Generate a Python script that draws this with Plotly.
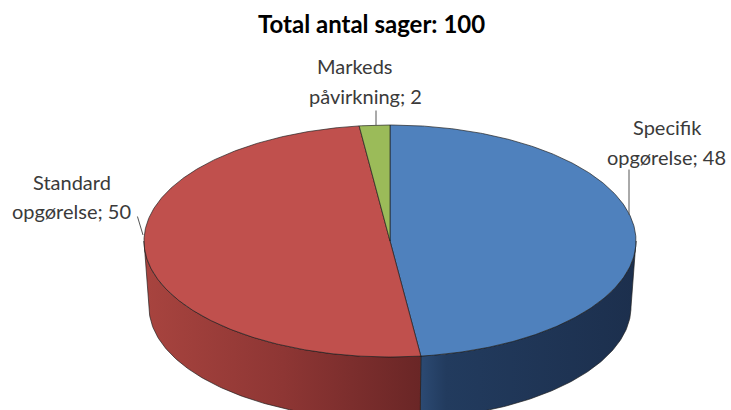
import numpy as np
import plotly.graph_objects as go

# ---- data ----
categories = ["Specifik opgørelse", "Standard opgørelse", "Markeds påvirkning"]
values = [48, 50, 2]
title_prefix = "Total antal sager"

# ---- style ----
top_colors = ["#4f81bd", "#c0504d", "#9bbb59"]
side_scales = [
    [[0, "#2c4a73"], [0.12, "#223b5e"], [1, "#1c2f4d"]],
    [[0, "#a8443f"], [0.5, "#8e3634"], [1, "#6a2626"]],
    [[0, "#7a9646"], [1, "#5e7535"]],
]
cx, cy, rx, ry = 390, 241, 246, 116
depth, rxb, ryb = 66, 241, 113
edge = dict(color="rgba(30,30,30,0.85)", width=0.8)
font_family = "Lato"

# label layout (centres of each line, leader line start/end)
label_pos = [
    [(667, 127), (666, 157)],
    [(72, 182), (71, 211)],
    [(355, 66), (365, 96)],
]
leader = [((629, 168), (629, 215)), ((137, 215), (143, 235)), ((376, 109), (376, 125))]


def top_pt(t):
    r = np.radians(t)
    return cx + rx * np.sin(r), cy - ry * np.cos(r)


def bot_pt(t):
    r = np.radians(t)
    return cx + rxb * np.sin(r), cy + depth - ryb * np.cos(r)


total = sum(values)
bounds = np.concatenate([[0], np.cumsum(values)]) / total * 360.0

fig = go.Figure()

# side faces (front half only: 90..270 deg clockwise from top)
for i, v in enumerate(values):
    a, b = bounds[i], bounds[i + 1]
    lo, hi = max(a, 90), min(b, 270)
    if hi <= lo:
        continue
    ts = np.linspace(lo, hi, 120)
    xt, yt = top_pt(ts)
    xb, yb = bot_pt(ts[::-1])
    xs = np.concatenate([xt, xb, xt[:1]])
    ys = np.concatenate([yt, yb, yt[:1]])
    fig.add_trace(go.Scatter(
        x=xs, y=ys, mode="lines", fill="toself", line=edge,
        fillgradient=dict(type="horizontal", colorscale=side_scales[i],
                          start=float(xs.min()), stop=float(xs.max())),
        hoverinfo="skip", showlegend=False))

# top faces
for i, v in enumerate(values):
    a, b = bounds[i], bounds[i + 1]
    ts = np.linspace(a, b, max(8, int((b - a) * 2)))
    xt, yt = top_pt(ts)
    xs = np.concatenate([[cx], xt, [cx]])
    ys = np.concatenate([[cy], yt, [cy]])
    fig.add_trace(go.Scatter(
        x=xs, y=ys, mode="lines", fill="toself", fillcolor=top_colors[i],
        line=edge, hoverinfo="skip", showlegend=False, name=categories[i]))

annotations = []
for i, (cat, v) in enumerate(zip(categories, values)):
    first, second = cat.split(" ", 1)
    lines = [first, f"{second}; {v}"]
    for (lx, ly), txt in zip(label_pos[i], lines):
        annotations.append(dict(x=lx, y=ly, xref="x", yref="y", text=txt,
                                showarrow=False, xanchor="center", yanchor="middle",
                                font=dict(family=font_family, size=20, color="#3a3a3a")))
    (sx, sy), (ex, ey) = leader[i]
    annotations.append(dict(x=ex, y=ey, ax=sx, ay=sy, xref="x", yref="y",
                            axref="x", ayref="y", text="", showarrow=True,
                            arrowhead=0, arrowwidth=1, arrowcolor="#555555"))

annotations.append(dict(x=371, y=23, xref="x", yref="y",
                        text=f"<b>{title_prefix}: {total}</b>", showarrow=False,
                        xanchor="center", yanchor="middle",
                        font=dict(family=font_family, size=24, color="#000000")))

fig.update_layout(
    width=731, height=410, margin=dict(l=0, r=0, t=0, b=0),
    paper_bgcolor="white", plot_bgcolor="white", showlegend=False,
    xaxis=dict(range=[0, 731], visible=False, fixedrange=True),
    yaxis=dict(range=[410, 0], visible=False, fixedrange=True),
    annotations=annotations,
)

fig.write_html(
    "out.html",
    config={"displayModeBar": False, "staticPlot": True},
    post_script="document.body.style.margin='0';document.body.style.overflow='hidden';",
)
